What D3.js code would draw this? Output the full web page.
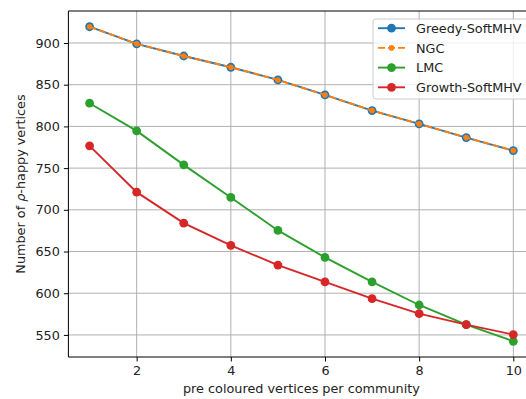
<!DOCTYPE html>
<html lang="en">
<head>
    <meta charset="UTF-8">
    <title>Number of rho-happy vertices vs pre coloured vertices</title>
    <script src="https://d3js.org/d3.v7.min.js"></script>
    <style>
        body { margin: 0; background: #fff; }
        svg { display: block; font-family: "DejaVu Sans", sans-serif; }
        .grid line { stroke: #b0b0b0; stroke-width: 1px; }
        .axis path, .axis line { stroke: #000; stroke-width: 1px; }
        .axis text { font-size: 12.8px; fill: #222; }
        .axis-label { font-size: 12.8px; fill: #222; }
        .legend text { font-size: 12.8px; fill: #222; }
    </style>
</head>
<body>
    <svg id="chart" width="526" height="399"></svg>

    <script>
        const communities = [1, 2, 3, 4, 5, 6, 7, 8, 9, 10];
        const greedySoftMHV = [919.5, 899, 884.4, 870.9, 855.7, 837.7, 819, 803, 786.6, 771];
        const ngc = [919.5, 899, 884.4, 870.9, 855.7, 837.7, 819, 803, 786.6, 771];
        const lmc = [827.8, 794.6, 753.9, 714.8, 675.3, 642.9, 613.5, 585.9, 562.4, 542.4];
        const growthSoftMHV = [776.7, 721.2, 684, 657.3, 633.8, 613.5, 593.5, 575.5, 562.4, 550.4];
        const xTicks = [2, 4, 6, 8, 10];
        const yTicks = [550, 600, 650, 700, 750, 800, 850, 900];

        const series = [
            {name: "Greedy-SoftMHV", values: greedySoftMHV, color: "#1f77b4", r: 4.4, dash: null},
            {name: "NGC", values: ngc, color: "#ff7f0e", r: 2.8, dash: "7,3"},
            {name: "LMC", values: lmc, color: "#2ca02c", r: 4.4, dash: null},
            {name: "Growth-SoftMHV", values: growthSoftMHV, color: "#d62728", r: 4.4, dash: null}
        ];

        const svg = d3.select("#chart");
        const plot = {left: 68.4, right: 534.5, top: 11, bottom: 357};

        // matplotlib style 5% margins
        const xMin = d3.min(communities), xMax = d3.max(communities);
        const xPad = (xMax - xMin) * 0.05;
        const allVals = series.flatMap(s => s.values);
        const yMin = d3.min(allVals), yMax = d3.max(allVals);
        const yPad = (yMax - yMin) * 0.05;

        const x = d3.scaleLinear().domain([xMin - xPad, xMax + xPad]).range([plot.left, plot.right]);
        const y = d3.scaleLinear().domain([yMin - yPad, yMax + yPad]).range([plot.bottom, plot.top]);

        // grid
        const grid = svg.append("g").attr("class", "grid");
        grid.selectAll(".gx").data(xTicks).enter().append("line")
            .attr("x1", d => x(d)).attr("x2", d => x(d))
            .attr("y1", plot.top).attr("y2", plot.bottom);
        grid.selectAll(".gy").data(yTicks).enter().append("line")
            .attr("x1", plot.left).attr("x2", plot.right)
            .attr("y1", d => y(d)).attr("y2", d => y(d));

        // series
        const line = d3.line()
            .x((d, i) => x(communities[i]))
            .y(d => y(d));

        series.forEach(s => {
            const g = svg.append("g");
            g.append("path")
                .datum(s.values)
                .attr("d", line)
                .attr("fill", "none")
                .attr("stroke", s.color)
                .attr("stroke-width", 1.9)
                .attr("stroke-dasharray", s.dash);
            g.selectAll("circle")
                .data(s.values)
                .enter().append("circle")
                .attr("cx", (d, i) => x(communities[i]))
                .attr("cy", d => y(d))
                .attr("r", s.r)
                .attr("fill", s.color);
        });

        // axes
        svg.append("g")
            .attr("class", "axis")
            .attr("transform", `translate(0,${plot.bottom})`)
            .call(d3.axisBottom(x).tickValues(xTicks).tickSize(4.5).tickPadding(4).tickSizeOuter(0))
            .call(g => g.select(".domain").attr("d", `M${plot.left},0H${plot.right}`));

        svg.append("g")
            .attr("class", "axis")
            .attr("transform", `translate(${plot.left},0)`)
            .call(d3.axisLeft(y).tickValues(yTicks).tickSize(4.5).tickPadding(4).tickSizeOuter(0))
            .call(g => g.select(".domain").attr("d", `M0,${plot.top}V${plot.bottom}`));

        svg.append("line")
            .attr("x1", plot.left).attr("x2", plot.right)
            .attr("y1", plot.top).attr("y2", plot.top)
            .attr("stroke", "#000");

        svg.selectAll(".axis text").attr("font-family", "DejaVu Sans");

        // axis labels
        svg.append("text")
            .attr("class", "axis-label")
            .attr("x", (plot.left + plot.right) / 2)
            .attr("y", 393)
            .attr("text-anchor", "middle")
            .text("pre coloured vertices per community");

        const yl = svg.append("text")
            .attr("class", "axis-label")
            .attr("transform", `translate(25,${(plot.top + plot.bottom) / 2}) rotate(-90)`)
            .attr("text-anchor", "middle");
        yl.append("tspan").text("Number of ");
        yl.append("tspan").attr("font-style", "italic").text("ρ");
        yl.append("tspan").text("-happy vertices");

        // legend
        const legend = svg.append("g").attr("class", "legend");
        legend.append("rect")
            .attr("x", 373).attr("y", 19)
            .attr("width", 156).attr("height", 80)
            .attr("rx", 3)
            .attr("fill", "#fff").attr("fill-opacity", 0.8)
            .attr("stroke", "#cccccc");

        const item = legend.selectAll(".item")
            .data(series)
            .enter().append("g")
            .attr("transform", (d, i) => `translate(0,${28.2 + i * 19.7})`);
        item.append("line")
            .attr("x1", 378).attr("x2", 405)
            .attr("stroke", d => d.color)
            .attr("stroke-width", 1.9)
            .attr("stroke-dasharray", d => d.dash);
        item.append("circle")
            .attr("cx", 391.5).attr("r", d => d.r)
            .attr("fill", d => d.color);
        item.append("text")
            .attr("x", 416).attr("dy", "0.36em")
            .text(d => d.name);
    </script>
</body>
</html>
